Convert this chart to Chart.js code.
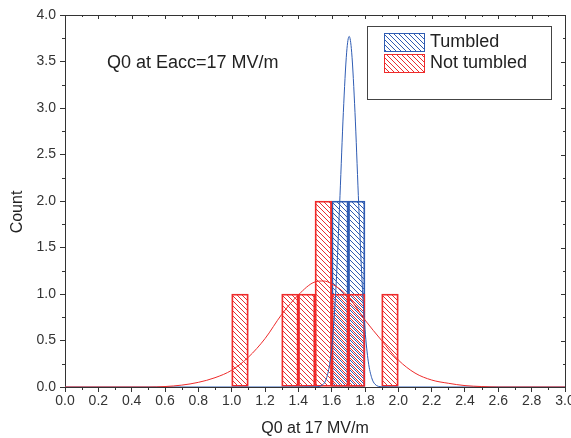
<!DOCTYPE html>
<html>
<head>
<meta charset="utf-8">
<script src="https://cdn.jsdelivr.net/npm/chart.js@4"></script>
<style>
  html, body { margin: 0; padding: 0; background: #fff; overflow: hidden; }
  #wrap { position: absolute; left: 0; top: 0; width: 576px; height: 438px; }
</style>
</head>
<body>
<div id="wrap"><canvas id="histChart" width="576" height="438"></canvas></div>
<script>
// histogram bins (left edges) and counts
var binLefts = [1.0, 1.1, 1.2, 1.3, 1.4, 1.5, 1.6, 1.7, 1.8, 1.9];
var binWidth = 0.1;
var tumbledCounts = [0, 0, 0, 0, 0, 0, 2, 2, 0, 0];
var notTumbledCounts = [1, 0, 0, 1, 1, 2, 1, 1, 0, 1];

// fitted curves
var notTumbledFitX = [0.0, 0.5, 0.6, 0.7, 0.8, 0.9, 1.0, 1.1, 1.2, 1.3, 1.4, 1.5, 1.55, 1.6, 1.7, 1.8, 1.9, 2.0, 2.1, 2.2, 2.3, 2.4, 2.5, 2.6, 3.0];
var notTumbledFitY = [0, 0, 0.005, 0.02, 0.05, 0.1, 0.18, 0.32, 0.52, 0.78, 0.99, 1.13, 1.14, 1.11, 0.97, 0.72, 0.5, 0.29, 0.15, 0.075, 0.04, 0.015, 0.005, 0, 0];
var tumbledFitX = [0.0, 1.4, 1.5, 1.55, 1.57, 1.59, 1.61, 1.63, 1.65, 1.67, 1.69, 1.705, 1.72, 1.74, 1.76, 1.78, 1.80, 1.82, 1.84, 1.86, 1.9, 2.0, 3.0];
var tumbledFitY = [0, 0, 0.002, 0.03, 0.1, 0.27, 0.62, 1.22, 2.06, 2.95, 3.6, 3.77, 3.6, 2.95, 2.06, 1.22, 0.62, 0.27, 0.1, 0.03, 0.003, 0, 0];

var RED = '#ee2b2b';
var BLUE = '#2f5cb3';
var AXIS = '#333333';

Chart.defaults.font.family = '"Liberation Sans", Arial, sans-serif';
Chart.defaults.color = '#333';

function makeHatch(color, shift) {
    var size = 5;
    var c = document.createElement('canvas');
    c.width = size;
    c.height = size;
    var g = c.getContext('2d');
    g.strokeStyle = color;
    g.lineWidth = 1;
    for (var k = -1; k <= 1; k++) {
        var o = k * size + shift;
        g.beginPath();
        g.moveTo(o - 1, -1);
        g.lineTo(o + size + 1, size + 1);
        g.stroke();
    }
    return g.createPattern(c, 'repeat');
}

function barPoints(counts) {
    var pts = [];
    for (var i = 0; i < binLefts.length; i++) {
        if (counts[i] > 0) pts.push({ x: binLefts[i] + binWidth / 2, y: counts[i] });
    }
    return pts;
}

function curvePoints(xs, ys) {
    return xs.map(function(x, i) { return { x: x, y: ys[i] }; });
}

var redHatch = makeHatch(RED, 2);
var blueHatch = makeHatch(BLUE, 0);

var framePlugin = {
    id: 'frame',
    afterDraw: function(chart) {
        var c = chart.ctx;
        var a = chart.chartArea;
        var xs = chart.scales.x;
        var ys = chart.scales.y;
        c.save();
        c.strokeStyle = AXIS;
        c.lineWidth = 1;
        // top and right border
        c.beginPath();
        c.moveTo(a.left, a.top + 0.5);
        c.lineTo(a.right + 0.5, a.top + 0.5);
        c.lineTo(a.right + 0.5, a.bottom);
        c.stroke();
        // minor ticks + top/right inner ticks
        c.beginPath();
        xs.ticks.forEach(function(t, i) {
            var px = Math.round(xs.getPixelForValue(t.value)) + 0.5;
            if (i % 2 === 1) {
                c.moveTo(px, a.bottom);
                c.lineTo(px, a.bottom + 3);
            }
            c.moveTo(px, a.top);
            c.lineTo(px, a.top + (i % 2 === 0 ? 4 : 2));
        });
        ys.ticks.forEach(function(t, i) {
            var py = Math.round(ys.getPixelForValue(t.value)) + 0.5;
            if (i % 2 === 1) {
                c.moveTo(a.left, py);
                c.lineTo(a.left - 3, py);
            }
            c.moveTo(a.right, py);
            c.lineTo(a.right - (i % 2 === 0 ? 4 : 2), py);
        });
        c.stroke();

        // y axis title
        c.fillStyle = '#222';
        c.font = '16px "Liberation Sans", Arial, sans-serif';
        c.textAlign = 'center';
        c.textBaseline = 'middle';
        c.save();
        c.translate(18, 212);
        c.rotate(-Math.PI / 2);
        c.fillText('Count', 0, 0);
        c.restore();

        // annotation
        c.font = '18px "Liberation Sans", Arial, sans-serif';
        c.textAlign = 'left';
        c.fillText('Q0 at Eacc=17 MV/m', 107, 63);

        // legend box
        c.fillStyle = '#fff';
        c.fillRect(367, 26, 184, 73);
        c.strokeStyle = '#444';
        c.strokeRect(367.5, 26.5, 184, 73);
        var entries = [
            { label: 'Tumbled', fill: blueHatch, line: BLUE, y: 33 },
            { label: 'Not tumbled', fill: redHatch, line: RED, y: 54 }
        ];
        entries.forEach(function(e) {
            c.fillStyle = e.fill;
            c.fillRect(384, e.y, 40, 18);
            c.strokeStyle = e.line;
            c.strokeRect(384.5, e.y + 0.5, 40, 18);
            c.fillStyle = '#222';
            c.font = '18px "Liberation Sans", Arial, sans-serif';
            c.fillText(e.label, 430, e.y + 9.5);
        });
        c.restore();
    }
};

var ctx = document.getElementById('histChart').getContext('2d');
var histChart = new Chart(ctx, {
    type: 'bar',
    data: {
        datasets: [
            {
                type: 'line',
                label: 'Not tumbled fit',
                data: curvePoints(notTumbledFitX, notTumbledFitY),
                borderColor: RED,
                borderWidth: 1,
                pointRadius: 0,
                cubicInterpolationMode: 'monotone',
                order: 0
            },
            {
                type: 'line',
                label: 'Tumbled fit',
                data: curvePoints(tumbledFitX, tumbledFitY),
                borderColor: BLUE,
                borderWidth: 1,
                pointRadius: 0,
                cubicInterpolationMode: 'monotone',
                order: 0
            },
            {
                label: 'Not tumbled',
                data: barPoints(notTumbledCounts),
                backgroundColor: redHatch,
                borderColor: RED,
                borderWidth: 1.2,
                borderSkipped: false,
                grouped: false,
                barPercentage: 1,
                categoryPercentage: 1,
                order: 1
            },
            {
                label: 'Tumbled',
                data: barPoints(tumbledCounts),
                backgroundColor: blueHatch,
                borderColor: BLUE,
                borderWidth: 1.2,
                borderSkipped: false,
                grouped: false,
                barPercentage: 1,
                categoryPercentage: 1,
                order: 2
            }
        ]
    },
    options: {
        responsive: false,
        animation: false,
        layout: {
            padding: { top: 15, right: 11, left: 0, bottom: 0 }
        },
        plugins: {
            legend: { display: false },
            tooltip: { enabled: false }
        },
        scales: {
            x: {
                type: 'linear',
                min: 0,
                max: 3,
                offset: false,
                border: { color: AXIS },
                grid: {
                    offset: false,
                    drawOnChartArea: false,
                    tickLength: 5,
                    tickColor: function(c) { return c.index % 2 === 0 ? AXIS : 'rgba(0,0,0,0)'; }
                },
                ticks: {
                    stepSize: 0.1,
                    autoSkip: false,
                    maxRotation: 0,
                    padding: 1,
                    color: '#333',
                    font: { size: 14 },
                    callback: function(v) {
                        return Math.round(v * 10) % 2 === 0 ? v.toFixed(1) : '';
                    }
                },
                title: {
                    display: true,
                    text: 'Q0 at 17 MV/m',
                    color: '#222',
                    font: { size: 16 },
                    padding: 0
                },
                afterFit: function(s) { s.height = 51; }
            },
            y: {
                min: 0,
                max: 4,
                border: { color: AXIS },
                grid: {
                    drawOnChartArea: false,
                    tickLength: 5,
                    tickColor: function(c) { return c.index % 2 === 0 ? AXIS : 'rgba(0,0,0,0)'; }
                },
                ticks: {
                    stepSize: 0.25,
                    autoSkip: false,
                    padding: 4,
                    color: '#333',
                    font: { size: 14 },
                    callback: function(v) {
                        return Math.round(v * 4) % 2 === 0 ? v.toFixed(1) : '';
                    }
                },
                afterFit: function(s) { s.width = 65; }
            }
        }
    },
    plugins: [framePlugin]
});
</script>
</body>
</html>
